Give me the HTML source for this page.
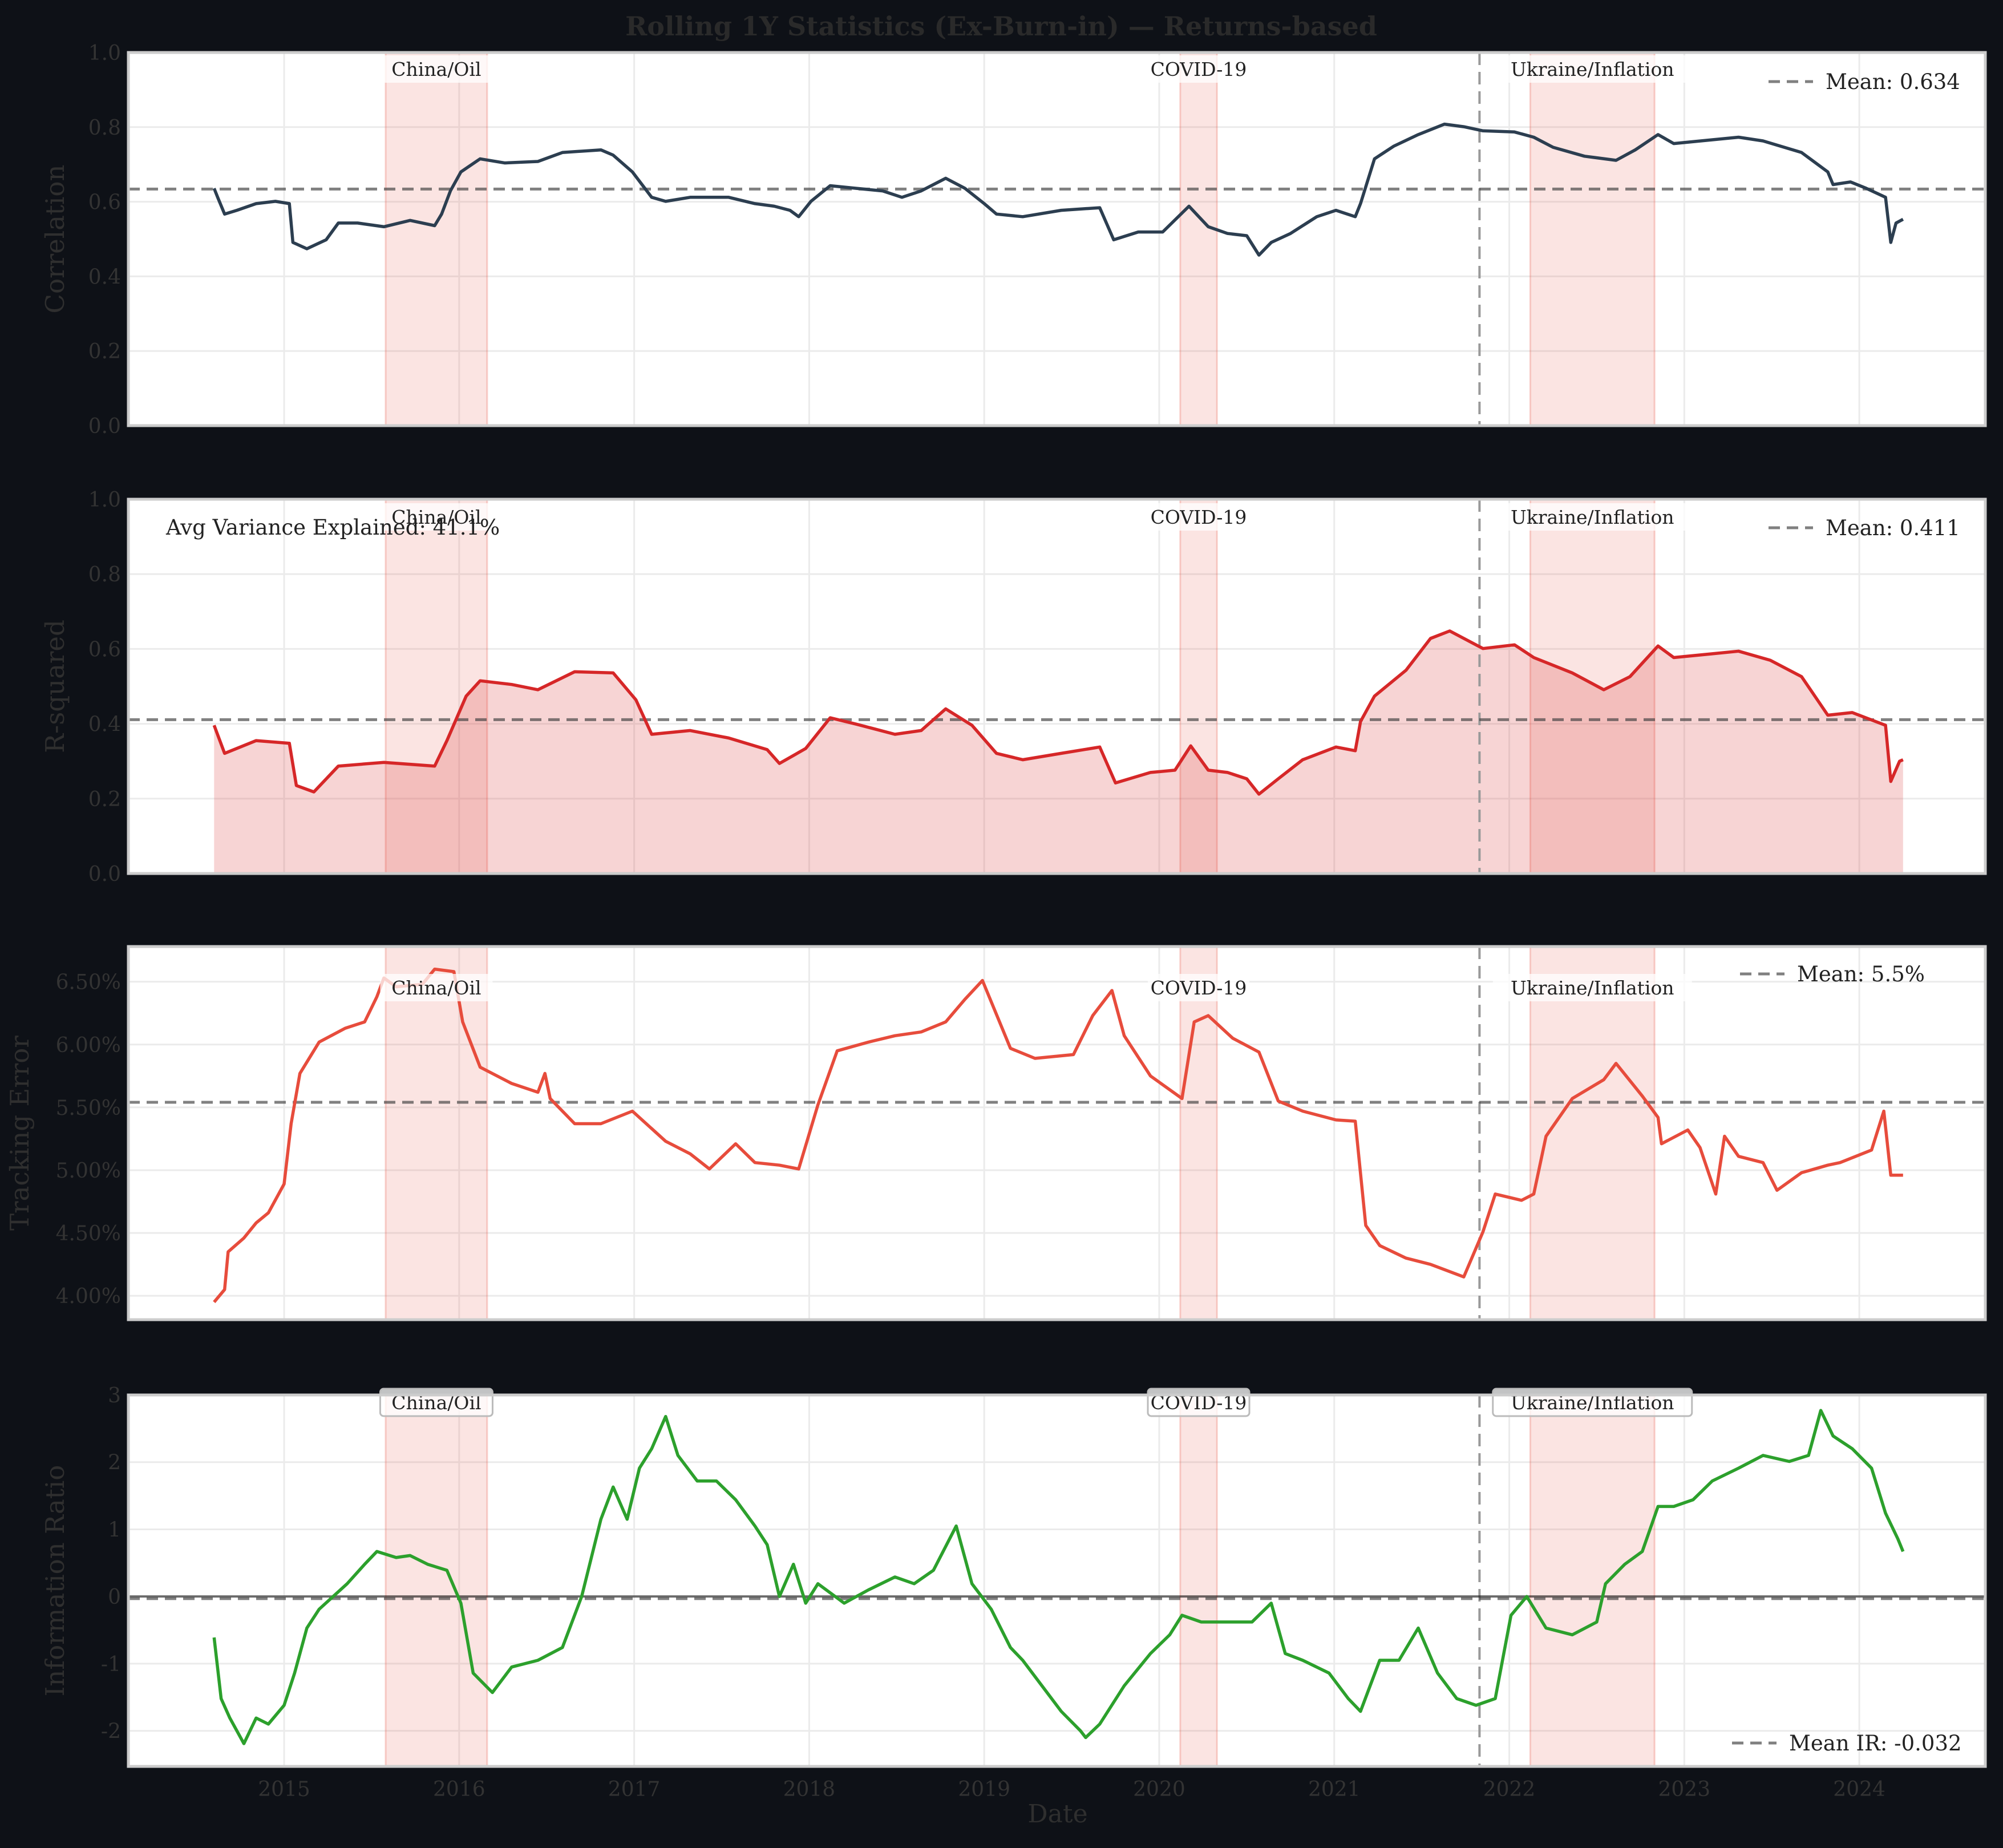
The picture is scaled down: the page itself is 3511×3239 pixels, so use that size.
<!DOCTYPE html>
<html><head><meta charset="utf-8"><style>
html,body{margin:0;padding:0;background:#0e1117;}
svg{display:block;font-family:"DejaVu Serif","Liberation Serif",serif;}
</style></head><body>
<svg id="chart" width="3511" height="3239" viewBox="0 0 3511 3239" xmlns="http://www.w3.org/2000/svg">
<rect x="0" y="0" width="3511" height="3239" fill="#0e1117"/>
<text x="1755" y="62" text-anchor="middle" font-size="46" font-weight="bold" fill="#2a2a2a">Rolling 1Y Statistics (Ex-Burn-in) — Returns-based</text>
<text x="1854" y="3194" text-anchor="middle" font-size="44" fill="#2f2f2f">Date</text>
</svg>
<script>
// ---- data ----
const yearTicks = [2015,2016,2017,2018,2019,2020,2021,2022,2023,2024];
const eventNames = ["China/Oil","COVID-19","Ukraine/Inflation"];
const eventStarts = [2015.58,2020.12,2022.12];
const eventEnds = [2016.16,2020.33,2022.83];
const burnInEnd = 2021.83;

const corrDates = [2014.60,2014.62,2014.66,2014.73,2014.84,2014.95,2015.03,2015.05,2015.13,2015.24,2015.31,2015.42,2015.57,2015.72,2015.86,2015.90,2015.95,2016.01,2016.12,2016.26,2016.45,2016.59,2016.81,2016.88,2016.99,2017.10,2017.18,2017.32,2017.54,2017.69,2017.80,2017.89,2017.94,2018.01,2018.12,2018.27,2018.42,2018.53,2018.64,2018.78,2018.89,2019.00,2019.07,2019.22,2019.44,2019.66,2019.74,2019.88,2020.02,2020.17,2020.28,2020.39,2020.50,2020.57,2020.64,2020.75,2020.90,2021.01,2021.12,2021.15,2021.23,2021.34,2021.48,2021.63,2021.74,2021.85,2022.03,2022.14,2022.25,2022.43,2022.61,2022.72,2022.85,2022.94,2023.16,2023.31,2023.45,2023.67,2023.82,2023.85,2023.95,2024.04,2024.15,2024.18,2024.21,2024.25];
const corrValues = [0.636,0.612,0.567,0.577,0.595,0.601,0.595,0.491,0.474,0.498,0.543,0.543,0.533,0.55,0.536,0.567,0.629,0.68,0.715,0.704,0.708,0.732,0.739,0.725,0.68,0.612,0.601,0.612,0.612,0.595,0.588,0.577,0.56,0.601,0.643,0.636,0.629,0.612,0.629,0.663,0.636,0.595,0.567,0.56,0.577,0.584,0.498,0.519,0.519,0.588,0.533,0.515,0.509,0.457,0.491,0.515,0.56,0.577,0.56,0.595,0.715,0.749,0.78,0.808,0.801,0.79,0.787,0.773,0.746,0.722,0.711,0.739,0.78,0.756,0.766,0.773,0.763,0.732,0.68,0.646,0.653,0.636,0.612,0.491,0.543,0.553];
const corrMean = 0.634;

const r2Dates = [2014.60,2014.66,2014.84,2015.03,2015.07,2015.17,2015.31,2015.57,2015.86,2015.93,2016.04,2016.12,2016.30,2016.45,2016.66,2016.88,2017.01,2017.10,2017.32,2017.54,2017.76,2017.83,2017.98,2018.12,2018.27,2018.49,2018.64,2018.78,2018.93,2019.07,2019.22,2019.44,2019.66,2019.75,2019.95,2020.09,2020.18,2020.28,2020.39,2020.50,2020.57,2020.68,2020.82,2021.01,2021.12,2021.15,2021.23,2021.41,2021.55,2021.66,2021.85,2022.03,2022.14,2022.36,2022.54,2022.69,2022.85,2022.94,2023.16,2023.31,2023.49,2023.67,2023.82,2023.96,2024.15,2024.18,2024.23,2024.25];
const r2Values = [0.396,0.321,0.355,0.348,0.235,0.218,0.287,0.297,0.287,0.355,0.474,0.515,0.505,0.491,0.539,0.536,0.464,0.372,0.382,0.362,0.331,0.294,0.334,0.416,0.399,0.372,0.382,0.44,0.396,0.321,0.304,0.321,0.338,0.242,0.27,0.276,0.341,0.276,0.27,0.253,0.212,0.253,0.304,0.338,0.328,0.406,0.474,0.543,0.628,0.648,0.601,0.611,0.577,0.536,0.491,0.526,0.608,0.577,0.587,0.594,0.57,0.526,0.423,0.43,0.396,0.246,0.3,0.304];
const r2Mean = 0.411;

const teDates = [2014.60,2014.66,2014.68,2014.77,2014.84,2014.91,2015.00,2015.04,2015.09,2015.20,2015.35,2015.46,2015.53,2015.57,2015.64,2015.79,2015.86,2015.97,2016.02,2016.12,2016.30,2016.45,2016.49,2016.52,2016.66,2016.81,2016.99,2017.18,2017.32,2017.43,2017.58,2017.69,2017.83,2017.94,2018.05,2018.16,2018.34,2018.49,2018.64,2018.78,2018.89,2018.99,2019.15,2019.29,2019.51,2019.62,2019.73,2019.80,2019.95,2020.13,2020.20,2020.28,2020.42,2020.57,2020.68,2020.82,2021.01,2021.12,2021.18,2021.26,2021.41,2021.55,2021.74,2021.85,2021.92,2022.07,2022.14,2022.21,2022.36,2022.54,2022.61,2022.76,2022.85,2022.87,2023.02,2023.09,2023.18,2023.23,2023.31,2023.45,2023.53,2023.67,2023.82,2023.89,2024.07,2024.14,2024.18,2024.25];
const teValues = [3.95,4.05,4.35,4.46,4.58,4.66,4.89,5.37,5.77,6.02,6.13,6.18,6.38,6.53,6.46,6.48,6.6,6.58,6.18,5.82,5.69,5.62,5.77,5.57,5.37,5.37,5.47,5.23,5.13,5.01,5.21,5.06,5.04,5.01,5.52,5.95,6.02,6.07,6.1,6.18,6.36,6.51,5.97,5.89,5.92,6.23,6.43,6.07,5.75,5.57,6.18,6.23,6.05,5.94,5.55,5.47,5.4,5.39,4.56,4.4,4.3,4.25,4.15,4.51,4.81,4.76,4.81,5.27,5.57,5.72,5.85,5.59,5.42,5.21,5.32,5.18,4.81,5.27,5.11,5.06,4.84,4.98,5.04,5.06,5.16,5.47,4.96,4.96];
const teMean = 5.54;

const irDates = [2014.60,2014.64,2014.69,2014.77,2014.84,2014.91,2015.00,2015.06,2015.13,2015.20,2015.28,2015.36,2015.46,2015.53,2015.64,2015.72,2015.82,2015.93,2016.01,2016.08,2016.19,2016.30,2016.45,2016.59,2016.70,2016.81,2016.88,2016.96,2017.03,2017.10,2017.18,2017.25,2017.36,2017.47,2017.58,2017.69,2017.76,2017.83,2017.91,2017.98,2018.05,2018.20,2018.34,2018.49,2018.60,2018.71,2018.84,2018.93,2019.04,2019.15,2019.22,2019.33,2019.44,2019.55,2019.58,2019.66,2019.80,2019.95,2020.06,2020.13,2020.24,2020.39,2020.53,2020.64,2020.72,2020.82,2020.97,2021.08,2021.15,2021.26,2021.37,2021.48,2021.59,2021.70,2021.81,2021.92,2022.01,2022.10,2022.21,2022.36,2022.50,2022.55,2022.66,2022.76,2022.85,2022.94,2023.05,2023.16,2023.31,2023.45,2023.60,2023.71,2023.78,2023.85,2023.96,2024.07,2024.15,2024.22,2024.25];
const irValues = [-0.61,-1.52,-1.81,-2.19,-1.81,-1.9,-1.62,-1.14,-0.47,-0.19,0.0,0.19,0.48,0.67,0.58,0.61,0.48,0.39,-0.1,-1.14,-1.43,-1.05,-0.95,-0.76,0.0,1.15,1.63,1.15,1.91,2.2,2.68,2.1,1.72,1.72,1.44,1.05,0.77,0.0,0.48,-0.1,0.19,-0.1,0.1,0.29,0.19,0.39,1.05,0.19,-0.19,-0.76,-0.95,-1.33,-1.71,-2.0,-2.1,-1.9,-1.33,-0.85,-0.57,-0.28,-0.38,-0.38,-0.38,-0.1,-0.85,-0.95,-1.14,-1.52,-1.71,-0.95,-0.95,-0.47,-1.14,-1.52,-1.62,-1.52,-0.28,0.0,-0.47,-0.57,-0.38,0.19,0.48,0.67,1.34,1.34,1.44,1.72,1.91,2.1,2.01,2.1,2.77,2.39,2.2,1.91,1.24,0.86,0.67];
const irMean = -0.032;

const corrTicks = [0.0,0.2,0.4,0.6,0.8,1.0];
const r2Ticks = [0.0,0.2,0.4,0.6,0.8,1.0];
const teTicks = [4.0,4.5,5.0,5.5,6.0,6.5];
const irTicks = [-2,-1,0,1,2,3];

// ---- layout ----
const NS = "http://www.w3.org/2000/svg";
const svg = document.getElementById('chart');
const L = 225, R = 3480;
const X0 = 2014.11, X1 = 2024.72;
function xs(v){ return L + (v - X0) / (X1 - X0) * (R - L); }
function mk(tag, attrs, parent){
  const e = document.createElementNS(NS, tag);
  for (const k in attrs) e.setAttribute(k, attrs[k]);
  (parent || svg).appendChild(e);
  return e;
}

const panels = [
  {key:'correlation', top:92, bottom:746, ymin:0, ymax:1, ticks:corrTicks, fmt:v=>v.toFixed(1), dates:corrDates, vals:corrValues, color:'#2c3e50', mean:corrMean, meanLabel:'Mean: 0.634', title:'Correlation', titleX:112, evOff:29, legY:143, legX1:3100, fill:false},
  {key:'r-squared', top:875, bottom:1531, ymin:0, ymax:1, ticks:r2Ticks, fmt:v=>v.toFixed(1), dates:r2Dates, vals:r2Values, color:'#d62728', mean:r2Mean, meanLabel:'Mean: 0.411', title:'R-squared', titleX:112, evOff:31, legY:925, legX1:3100, fill:true},
  {key:'tracking-error', top:1659, bottom:2313, ymin:3.81, ymax:6.78, ticks:teTicks, fmt:v=>v.toFixed(2)+'%', dates:teDates, vals:teValues, color:'#e74c3c', mean:teMean, meanLabel:'Mean: 5.5%', title:'Tracking Error', titleX:50, evOff:72, legY:1707, legX1:3050, fill:false},
  {key:'information-ratio', top:2445, bottom:3096, ymin:-2.53, ymax:3, ticks:irTicks, fmt:v=>String(v), dates:irDates, vals:irValues, color:'#2ca02c', mean:irMean, meanLabel:'Mean IR: -0.032', title:'Information Ratio', titleX:112, evOff:13, legY:3055, legX1:3036, fill:false}
];

panels.forEach(function(p){
  const ys = v => p.bottom - (v - p.ymin) / (p.ymax - p.ymin) * (p.bottom - p.top);
  const g = mk('g', {});
  
  
  const bg = mk('rect', {x:L, y:p.top, width:R-L, height:p.bottom-p.top, fill:'#ffffff'}, g);
  
  
  yearTicks.forEach(function(yr){
    const gl = mk('line', {x1:xs(yr), x2:xs(yr), y1:p.top, y2:p.bottom, stroke:'#ebebeb', 'stroke-width':3}, g);
    
    
  });
  p.ticks.forEach(function(t){
    const gl = mk('line', {x1:L, x2:R, y1:ys(t), y2:ys(t), stroke:'#ebebeb', 'stroke-width':3}, g);
    
    
    const tl = mk('text', {x:212, y:ys(t)+13, 'text-anchor':'end', 'font-size':36, fill:'#333333'}, g);
    tl.textContent = p.fmt(t);
    
    
  });
  eventNames.forEach(function(nm, i){
    const sh = mk('rect', {x:xs(eventStarts[i]), y:p.top, width:xs(eventEnds[i])-xs(eventStarts[i]), height:p.bottom-p.top, fill:'rgba(231,76,60,0.15)', stroke:'rgba(231,76,60,0.25)', 'stroke-width':3}, g);
    
    
  });
  const pts = p.dates.map((d,i)=> xs(d).toFixed(1)+','+ys(p.vals[i]).toFixed(1));
  if (p.fill) {
    const area = mk('polygon', {points: xs(p.dates[0]).toFixed(1)+','+ys(0)+' '+pts.join(' ')+' '+xs(p.dates[p.dates.length-1]).toFixed(1)+','+ys(0), fill:'rgba(214,39,40,0.2)'}, g);
    
    
  }
  const bl = mk('line', {x1:xs(burnInEnd), x2:xs(burnInEnd), y1:p.top, y2:p.bottom, stroke:'#999999', 'stroke-width':4, 'stroke-dasharray':'22,12'}, g);
  
  
  if (p.key === 'information-ratio') {
    const zl = mk('line', {x1:L, x2:R, y1:ys(0), y2:ys(0), stroke:'rgba(0,0,0,0.55)', 'stroke-width':4}, g);
    
    
  }
  const ml = mk('line', {x1:L, x2:R, y1:ys(p.mean), y2:ys(p.mean), stroke:'rgba(60,60,60,0.65)', 'stroke-width':5, 'stroke-dasharray':'20,12'}, g);
  
  
  const ln = mk('polyline', {points:pts.join(' '), fill:'none', stroke:p.color, 'stroke-width':5.5, 'stroke-linejoin':'round'}, g);
  
  
  eventNames.forEach(function(nm, i){
    const cx = (xs(eventStarts[i]) + xs(eventEnds[i])) / 2;
    const w = nm.length * 19 + 26;
    const bx = mk('rect', {x:cx-w/2, y:p.top+p.evOff-24, width:w, height:48, rx:6, fill:'rgba(255,255,255,0.75)', stroke: p.key==='information-ratio' ? '#bbbbbb' : 'none', 'stroke-width':3}, g);
    
    
    const tx = mk('text', {x:cx, y:p.top+p.evOff+12, 'text-anchor':'middle', 'font-size':33, fill:'#222222'}, g);
    tx.textContent = nm;
    
    
  });
  const lg = mk('line', {x1:p.legX1, x2:p.legX1+78, y1:p.legY, y2:p.legY, stroke:'rgba(60,60,60,0.65)', 'stroke-width':5, 'stroke-dasharray':'20,12'}, g);
  
  
  const lt = mk('text', {x:p.legX1+100, y:p.legY+13, 'font-size':37, fill:'#222222'}, g);
  lt.textContent = p.meanLabel;
  
  
  const bd = mk('rect', {x:L, y:p.top, width:R-L, height:p.bottom-p.top, fill:'none', stroke:'#cccccc', 'stroke-width':5}, g);
  
  
  const cy = (p.top + p.bottom) / 2;
  const yt = mk('text', {x:p.titleX, y:cy, 'text-anchor':'middle', 'font-size':45, fill:'#2f2f2f', transform:'rotate(-90 '+p.titleX+' '+cy+')'}, g);
  yt.textContent = p.title;
  
  
  if (p.key === 'r-squared') {
    const at = mk('text', {x:291, y:p.top+62, 'font-size':37, fill:'#222222'}, g);
    at.textContent = 'Avg Variance Explained: 41.1%';
    
    
  }
});
yearTicks.forEach(function(yr){
  const t = mk('text', {x:xs(yr), y:3148, 'text-anchor':'middle', 'font-size':36, fill:'#333333'});
  t.textContent = String(yr);
  
  
});
</script>
</body></html>
